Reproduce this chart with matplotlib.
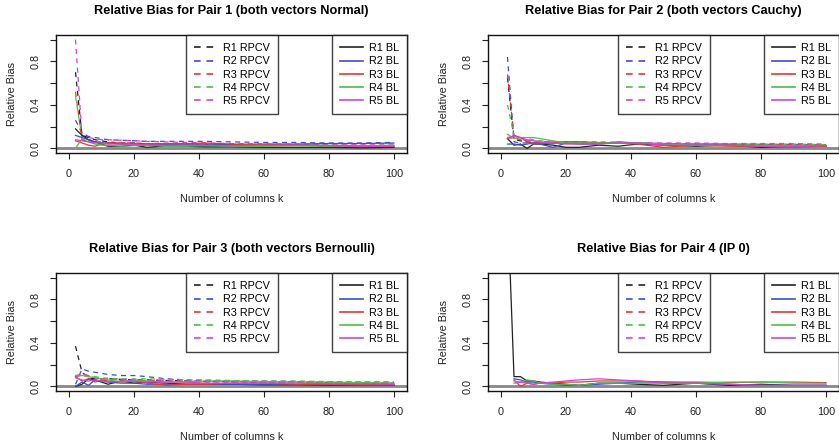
import numpy as np
import matplotlib
matplotlib.use("Agg")
import matplotlib.pyplot as plt

plt.rcParams['font.family'] = ['Liberation Sans', 'DejaVu Sans']

# number of columns k (shared grid)
k = [2, 4, 6, 8, 10, 12, 16, 20, 24, 30, 36, 42, 50, 60, 70, 80, 90, 100]
nan = np.nan

titles = ["Relative Bias for Pair 1 (both vectors Normal)",
          "Relative Bias for Pair 2 (both vectors Cauchy)",
          "Relative Bias for Pair 3 (both vectors Bernoulli)",
          "Relative Bias for Pair 4 (IP 0)"]
series = ["R1", "R2", "R3", "R4", "R5"]

# Pair 1
rpcv1 = [
    [0.70, 0.12, 0.10, 0.08, 0.07, 0.06, 0.05, 0.05, 0.04, 0.04, 0.04, 0.035, 0.03, 0.03, 0.03, 0.025, 0.02, 0.02],
    [0.26, 0.14, 0.11, 0.10, 0.09, 0.08, 0.075, 0.07, 0.065, 0.065, 0.065, 0.065, 0.06, 0.055, 0.055, 0.05, 0.05, 0.055],
    [0.52, 0.08, 0.06, 0.06, 0.05, 0.05, 0.05, 0.05, 0.045, 0.045, 0.04, 0.04, 0.035, 0.03, 0.03, 0.03, 0.03, 0.025],
    [0.48, 0.10, 0.08, 0.07, 0.06, 0.05, 0.045, 0.04, 0.04, 0.04, 0.035, 0.035, 0.03, 0.03, 0.03, 0.03, 0.025, 0.025],
    [1.00, 0.12, 0.10, 0.09, 0.08, 0.08, 0.075, 0.07, 0.065, 0.06, 0.055, 0.05, 0.045, 0.04, 0.04, 0.04, 0.04, 0.04],
]
bl1 = [
    [0.18, 0.12, 0.08, 0.06, 0.04, 0.02, 0.02, 0.03, 0.01, 0.025, 0.02, 0.015, 0.015, 0.01, 0.01, 0.01, 0.005, 0.01],
    [0.12, 0.10, 0.08, 0.06, 0.05, 0.05, 0.04, 0.04, 0.04, 0.035, 0.04, 0.04, 0.035, 0.04, 0.04, 0.045, 0.045, 0.05],
    [0.07, 0.05, 0.03, 0.02, 0.04, 0.05, 0.05, 0.04, 0.04, 0.045, 0.045, 0.05, 0.04, 0.035, 0.03, 0.025, 0.02, 0.02],
    [0.00, 0.09, 0.06, 0.04, 0.03, 0.03, 0.02, 0.025, 0.03, 0.02, 0.02, 0.025, 0.02, 0.02, 0.025, 0.02, 0.025, 0.03],
    [0.08, 0.07, 0.06, 0.05, 0.05, 0.04, 0.04, 0.035, 0.03, 0.03, 0.03, 0.03, 0.025, 0.03, 0.03, 0.025, 0.02, 0.02],
]

# Pair 2
rpcv2 = [
    [0.65, 0.08, 0.07, 0.06, 0.05, 0.05, 0.05, 0.05, 0.05, 0.05, 0.05, 0.045, 0.04, 0.04, 0.035, 0.035, 0.03, 0.03],
    [0.84, 0.06, 0.05, 0.05, 0.05, 0.05, 0.045, 0.05, 0.05, 0.05, 0.05, 0.05, 0.045, 0.04, 0.04, 0.035, 0.035, 0.035],
    [0.68, 0.10, 0.08, 0.07, 0.06, 0.06, 0.06, 0.06, 0.06, 0.055, 0.055, 0.05, 0.045, 0.04, 0.04, 0.04, 0.035, 0.03],
    [0.40, 0.12, 0.10, 0.09, 0.08, 0.07, 0.065, 0.06, 0.06, 0.055, 0.05, 0.05, 0.045, 0.045, 0.04, 0.04, 0.04, 0.035],
    [0.10, 0.09, 0.08, 0.07, 0.07, 0.065, 0.06, 0.06, 0.06, 0.06, 0.055, 0.05, 0.05, 0.05, 0.045, 0.045, 0.045, 0.04],
]
bl2 = [
    [0.09, 0.03, 0.04, 0.00, 0.04, 0.04, 0.03, 0.01, 0.01, 0.03, 0.02, 0.04, 0.03, 0.02, 0.03, 0.01, 0.02, 0.02],
    [0.04, 0.04, 0.03, 0.04, 0.05, 0.04, 0.01, 0.05, 0.04, 0.04, 0.06, 0.05, 0.04, 0.03, 0.03, 0.02, 0.02, 0.025],
    [0.09, 0.12, 0.10, 0.06, 0.04, 0.05, 0.05, 0.06, 0.06, 0.05, 0.05, 0.04, 0.01, 0.03, 0.02, 0.02, 0.01, 0.02],
    [0.13, 0.09, 0.10, 0.10, 0.10, 0.09, 0.07, 0.05, 0.05, 0.05, 0.05, 0.05, 0.04, 0.03, 0.03, 0.03, 0.025, 0.03],
    [0.10, 0.11, 0.10, 0.08, 0.07, 0.06, 0.05, 0.04, 0.04, 0.04, 0.05, 0.05, 0.03, 0.03, 0.03, 0.02, 0.02, 0.025],
]

# Pair 3
rpcv3 = [
    [0.37, 0.13, 0.08, 0.07, 0.07, 0.07, 0.065, 0.06, 0.06, 0.055, 0.05, 0.045, 0.045, 0.04, 0.04, 0.035, 0.03, 0.03],
    [0.02, 0.16, 0.14, 0.13, 0.12, 0.11, 0.10, 0.10, 0.09, 0.07, 0.06, 0.055, 0.05, 0.05, 0.045, 0.04, 0.04, 0.04],
    [0.10, 0.11, 0.09, 0.08, 0.07, 0.07, 0.065, 0.06, 0.055, 0.05, 0.05, 0.045, 0.045, 0.04, 0.04, 0.035, 0.035, 0.03],
    [0.09, 0.10, 0.10, 0.09, 0.08, 0.075, 0.07, 0.07, 0.07, 0.065, 0.06, 0.06, 0.055, 0.05, 0.05, 0.045, 0.04, 0.04],
    [0.08, 0.12, 0.10, 0.08, 0.07, 0.065, 0.06, 0.055, 0.05, 0.05, 0.045, 0.04, 0.04, 0.035, 0.035, 0.03, 0.03, 0.03],
]
bl3 = [
    [0.00, 0.02, 0.07, 0.06, 0.04, 0.02, 0.05, 0.03, 0.04, 0.03, 0.02, 0.02, 0.02, 0.015, 0.015, 0.01, 0.01, 0.01],
    [0.00, 0.04, 0.01, 0.06, 0.05, 0.04, 0.03, 0.03, 0.02, 0.02, 0.02, 0.02, 0.02, 0.015, 0.015, 0.015, 0.01, 0.01],
    [0.09, 0.05, 0.07, 0.04, 0.06, 0.05, 0.04, 0.05, 0.03, 0.01, 0.02, 0.02, 0.03, 0.03, 0.02, 0.02, 0.02, 0.02],
    [0.10, 0.10, 0.09, 0.08, 0.07, 0.06, 0.04, 0.06, 0.05, 0.04, 0.04, 0.05, 0.05, 0.045, 0.04, 0.04, 0.035, 0.03],
    [0.08, 0.06, 0.05, 0.06, 0.05, 0.04, 0.05, 0.05, 0.04, 0.04, 0.04, 0.03, 0.03, 0.03, 0.03, 0.025, 0.025, 0.02],
]

# Pair 4 (RPCV undefined for IP 0)
rpcv4 = [[nan] * len(k) for _ in range(5)]
bl4 = [
    [1.70, 0.09, 0.09, 0.05, 0.05, 0.04, 0.03, 0.02, 0.01, 0.03, 0.03, 0.02, 0.01, 0.03, 0.01, 0.02, 0.01, 0.01],
    [nan, 0.07, 0.06, 0.04, 0.04, 0.03, 0.02, 0.01, 0.01, 0.02, 0.03, 0.04, 0.04, 0.03, 0.02, 0.01, 0.01, 0.01],
    [nan, 0.06, 0.00, 0.03, 0.02, 0.03, 0.03, 0.04, 0.04, 0.05, 0.05, 0.05, 0.04, 0.04, 0.035, 0.04, 0.04, 0.035],
    [nan, 0.05, 0.04, 0.06, 0.05, 0.03, 0.02, 0.02, 0.01, 0.03, 0.03, 0.03, 0.03, 0.03, 0.04, 0.04, 0.03, 0.03],
    [nan, 0.03, 0.04, 0.03, 0.02, 0.03, 0.04, 0.05, 0.06, 0.07, 0.06, 0.05, 0.03, 0.03, 0.02, 0.01, 0.01, 0.01],
]

rpcv_all = [rpcv1, rpcv2, rpcv3, rpcv4]
bl_all = [bl1, bl2, bl3, bl4]
colors = ['#222222', '#3b4fc9', '#ee3333', '#4cbf4c', '#d444d4']

W, H = 839, 445
fig = plt.figure(figsize=(W / 100, H / 100), dpi=100)

# axes boxes in pixels: left, top
boxes = [(56, 35), (488, 35), (56, 273), (488, 273)]
bw, bh = 351, 118
fs = 7.8


def r_legend(ax, handles, loc, anchor):
    leg = ax.legend(handles=handles, loc=loc, bbox_to_anchor=anchor,
                    fontsize=fs, frameon=True, fancybox=False, handlelength=2.15,
                    handletextpad=0.5, labelspacing=0.3, borderpad=0.75,
                    borderaxespad=0)
    leg.get_frame().set_edgecolor('#111111')
    leg.get_frame().set_linewidth(1.0)
    for ln in leg.get_lines():
        ln.set_linewidth(1.2)
    return leg


for i in range(4):
    l, t = boxes[i]
    ax = fig.add_axes([l / W, 1 - (t + bh) / H, bw / W, bh / H])
    ax.axhline(0, color='#888888', lw=2, zorder=1)
    rp_lines = []
    bl_lines = []
    for j in range(5):
        ln, = ax.plot(k, rpcv_all[i][j], color=colors[j], lw=0.9,
                      ls=(0, (4, 3.5)), label=series[j] + " RPCV")
        rp_lines.append(ln)
    for j in range(5):
        ln, = ax.plot(k, bl_all[i][j], color=colors[j], lw=0.9,
                      label=series[j] + " BL")
        bl_lines.append(ln)

    ax.set_xlim(-4, 104)
    ax.set_ylim(-0.042, 1.042)
    ax.set_xticks([0, 20, 40, 60, 80, 100])
    ax.set_yticks([0, 0.2, 0.4, 0.6, 0.8, 1.0])
    ax.set_yticklabels(["0.0", "", "0.4", "", "0.8", ""])
    ax.tick_params(direction='out', length=4.3, width=0.8, labelsize=fs,
                   colors='#222222', pad=7)
    for lab in ax.get_yticklabels():
        lab.set_rotation(90)
        lab.set_va('center')
    for sp in ax.spines.values():
        sp.set_linewidth(1.0)
        sp.set_color('#111111')

    ax.set_title(titles[i], fontsize=9.2, fontweight='bold', pad=15)
    ax.set_xlabel("Number of columns k", fontsize=fs, labelpad=11, color='#222222')
    ax.set_ylabel("Relative Bias", fontsize=fs, labelpad=9.5, color='#222222')

    leg1 = r_legend(ax, rp_lines, 'upper left', (0.37, 1.0))
    ax.add_artist(leg1)
    r_legend(ax, bl_lines, 'upper right', (1.0, 1.0))

fig.savefig("out.png", dpi=100)
